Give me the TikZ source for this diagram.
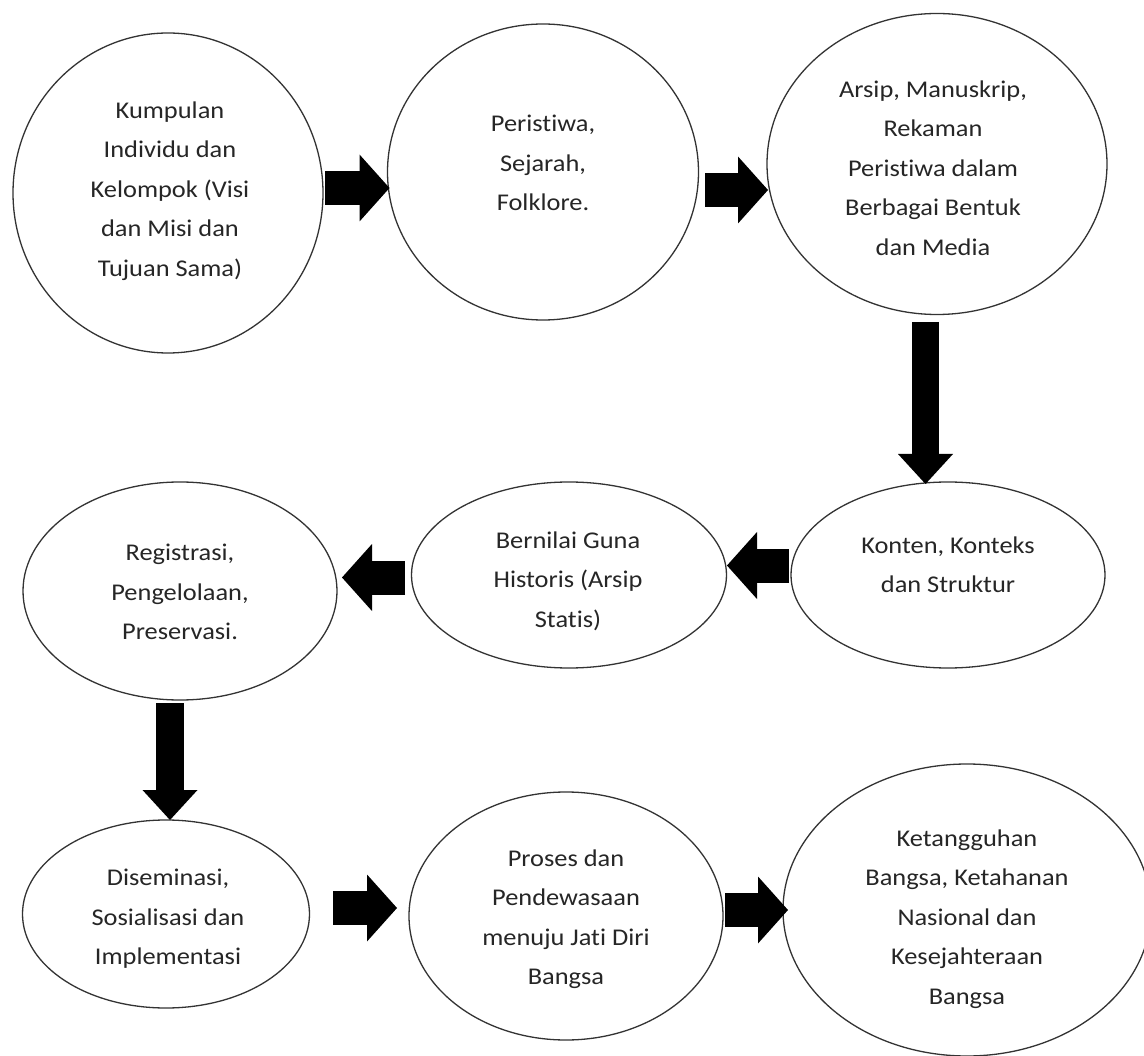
\documentclass[tikz,border=0pt]{standalone}
\usepackage{fontspec}
\setmainfont{Carlito}[FakeStretch=1.1,Ligatures=NoCommon]
\usetikzlibrary{shapes.geometric,arrows.meta}
\begin{document}
\begin{tikzpicture}[x=1pt,y=-1pt,
  bubble/.style={ellipse,draw=black!80,line width=1.3pt,fill=white,inner sep=0pt,outer sep=0pt},
  label/.style={align=center,text=black!85,inner sep=0pt,font=\fontsize{24}{39.5}\selectfont},
  harrow/.style={line width=34pt,black,-{Triangle[length=30pt,width=67pt,line width=0pt]}},
  varrow/.style={line width=27.5pt,black,-{Triangle[length=30pt,width=55pt,line width=0pt]}}]
\useasboundingbox (0,0) rectangle (1144,1056);
\fill[white] (0,0) rectangle (1144,1056);
% ellipses
\node[bubble,minimum width=310pt,minimum height=320pt] (e1) at (168,193) {};
\node[bubble,minimum width=311pt,minimum height=296pt] (e2) at (543,172) {};
\node[bubble,minimum width=340pt,minimum height=301pt] (e3) at (937,164) {};
\node[bubble,minimum width=314pt,minimum height=186pt] (e4) at (948,575) {};
\node[bubble,minimum width=315pt,minimum height=186pt] (e5) at (569,575) {};
\node[bubble,minimum width=314pt,minimum height=218pt] (e6) at (180,591) {};
\node[bubble,minimum width=287pt,minimum height=188pt] (e7) at (166,914) {};
\node[bubble,minimum width=314pt,minimum height=248pt] (e8) at (566,916) {};
\node[bubble,minimum width=368pt,minimum height=292pt] (e9) at (967,910) {};
% texts
\node[label] (t1) at (170,191) {Kumpulan\\Individu dan\\Kelompok (Visi\\dan Misi dan\\Tujuan Sama)};
\node[label] (t2) at (543,163) {Peristiwa,\\Sejarah,\\Folklore.};
\node[label] (t3) at (933,168) {Arsip, Manuskrip,\\Rekaman\\Peristiwa dalam\\Berbagai Bentuk\\dan Media};
\node[label] (t4) at (948,565) {Konten, Konteks\\dan Struktur};
\node[label] (t5) at (568,581) {Bernilai Guna\\Historis (Arsip\\Statis)};
\node[label] (t6) at (180,592) {Registrasi,\\Pengelolaan,\\Preservasi.};
\node[label] (t7) at (168,919) {Diseminasi,\\Sosialisasi dan\\Implementasi};
\node[label] (t8) at (566,919) {Proses dan\\Pendewasaan\\menuju Jati Diri\\Bangsa};
\node[label] (t9) at (967,919) {Ketangguhan\\Bangsa, Ketahanan\\Nasional dan\\Kesejahteraan\\Bangsa};
% block arrows
\draw[harrow] ([xshift=2pt,yshift=5pt]e1.east) -- ([xshift=2pt,yshift=-16pt]e2.west);
\draw[harrow] ([xshift=6.5pt,yshift=-18pt]e2.east) -- ([xshift=1pt,yshift=-26pt]e3.west);
\draw[varrow] ([xshift=-11.5pt,yshift=-7.5pt]e3.south) -- ([xshift=-22.5pt,yshift=-2pt]e4.north);
\draw[harrow] ([xshift=-2pt,yshift=9.5pt]e4.west) -- ([xshift=0.5pt,yshift=9.5pt]e5.east);
\draw[harrow] ([xshift=-6.5pt,yshift=-2.5pt]e5.west) -- ([xshift=5pt,yshift=13.5pt]e6.east);
\draw[varrow] ([xshift=-10pt,yshift=-3pt]e6.south) -- ([xshift=4pt,yshift=0pt]e7.north);
\draw[harrow] ([xshift=23.5pt,yshift=6pt]e7.east) -- ([xshift=-12pt,yshift=8pt]e8.west);
\draw[harrow] ([xshift=2pt,yshift=6pt]e8.east) -- ([xshift=5pt,yshift=0pt]e9.west);
\end{tikzpicture}
\end{document}
